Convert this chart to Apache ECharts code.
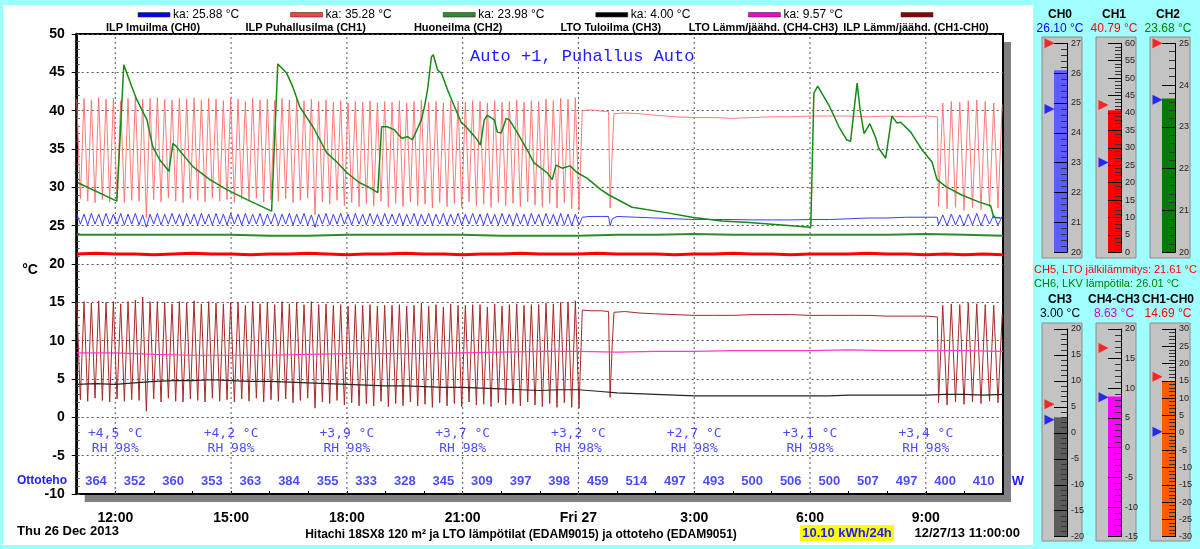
<!DOCTYPE html>
<html><head><meta charset="utf-8">
<script src="https://cdn.jsdelivr.net/npm/echarts@6/dist/echarts.min.js"></script>
<style>html,body{margin:0;padding:0;background:#a0ffff}#c{width:1200px;height:549px}</style>
</head><body><div id="c"></div><script>
// ---------------- DATA ----------------
// oscillating part 1: logged extremes, from 11:00, every 0.095 h (peak, trough, ...)
const ch1Osc1 = [
41.5,28.5, 41.6,28.2, 41.4,28.0, 41.7,28.4, 41.5,28.1, 41.6,28.6, 41.3,28.0, 41.6,28.3, 41.8,28.2, 41.5,26.0,
41.6,28.4, 41.7,28.1, 41.5,28.6, 41.4,28.2, 41.6,28.0, 41.5,28.5, 41.7,28.3, 41.4,28.1, 41.6,28.6, 41.5,28.2,
41.3,28.4, 41.6,28.0, 41.5,28.5, 41.2,28.2, 41.6,28.6, 41.4,28.1, 41.5,28.4, 41.3,28.2, 41.6,28.5, 41.4,28.0,
41.5,28.3, 41.3,28.6, 41.5,26.4, 41.2,28.1, 41.4,27.8, 41.1,28.3, 41.3,27.6, 41.0,28.0, 41.2,27.5, 41.1,27.9,
41.3,27.6, 41.0,28.2, 41.2,27.4, 41.1,27.9, 41.3,27.5, 41.0,28.1, 41.2,27.6, 41.4,27.8, 41.1,27.3, 41.2,28.0,
41.0,27.5, 41.3,27.9, 41.2,27.4, 41.1,28.1, 41.3,27.6, 41.2,27.8, 41.0,27.4, 41.3,28.0, 41.1,27.6, 41.2,27.9,
41.4,27.5, 41.1,28.1, 41.3,27.7, 41.2,27.4, 41.5,27.9, 41.3,27.3, 41.6,28.0, 41.5,27.2, 41.7,27.0
];
const ch0Osc1 = [
26.6,25.2, 26.5,25.1, 26.6,25.2, 26.5,25.1, 26.6,25.2, 26.5,25.2, 26.6,25.1, 26.5,25.2, 26.6,25.1, 26.4,24.8,
26.5,25.2, 26.6,25.1, 26.5,25.2, 26.6,25.2, 26.5,25.1, 26.6,25.2, 26.5,25.1, 26.6,25.2, 26.5,25.1, 26.6,25.2,
26.5,25.1, 26.6,25.2, 26.5,25.1, 26.6,25.2, 26.5,25.2, 26.6,25.1, 26.5,25.2, 26.6,25.1, 26.5,25.2, 26.6,25.1,
26.5,25.2, 26.6,25.1, 26.4,24.8, 26.5,25.2, 26.6,25.1, 26.5,25.2, 26.6,25.2, 26.5,25.1, 26.6,25.2, 26.5,25.1,
26.6,25.2, 26.5,25.1, 26.6,25.2, 26.5,25.2, 26.6,25.1, 26.5,25.2, 26.6,25.1, 26.5,25.2, 26.6,25.1, 26.5,25.2,
26.6,25.1, 26.5,25.2, 26.6,25.1, 26.5,25.2, 26.6,25.2, 26.5,25.1, 26.6,25.2, 26.5,25.1, 26.6,25.2, 26.5,25.1,
26.6,25.2, 26.5,25.1, 26.6,25.2, 26.5,25.1, 26.6,25.2, 26.5,25.1, 26.6,25.1, 26.5,25.0, 26.5,25.1
];
const ch10Osc1 = [
15.0,2.3, 15.1,2.1, 14.9,2.5, 15.2,2.2, 15.0,2.0, 15.1,2.4, 14.8,2.1, 15.1,2.3, 15.3,2.2, 15.7,0.8,
15.1,2.4, 15.1,2.0, 15.0,2.5, 14.8,2.1, 15.1,2.0, 14.9,2.4, 15.2,2.2, 14.8,2.0, 15.1,2.5, 14.9,2.1,
14.8,2.3, 15.0,2.0, 15.0,2.4, 14.6,2.1, 15.1,2.5, 14.8,2.0, 15.0,2.3, 14.7,2.1, 15.1,2.4, 14.8,1.9,
15.0,2.2, 14.7,2.5, 15.1,1.2, 14.7,2.0, 14.8,1.8, 14.6,2.2, 14.7,1.6, 14.5,1.9, 14.7,1.5, 14.6,1.8,
14.7,1.5, 14.5,2.1, 14.6,1.4, 14.6,1.8, 14.7,1.5, 14.5,2.0, 14.6,1.5, 14.9,1.7, 14.5,1.3, 14.7,1.9,
14.4,1.5, 14.8,1.8, 14.6,1.4, 14.6,2.0, 14.7,1.6, 14.7,1.7, 14.4,1.4, 14.8,1.9, 14.5,1.6, 14.7,1.8,
14.8,1.5, 14.6,2.0, 14.7,1.6, 14.7,1.4, 14.9,1.8, 14.8,1.3, 15.0,1.9, 15.0,1.3, 15.2,1.2
];
// steady period [hour, value]
const ch1Steady = [[24.1,40.0],[24.3,40.1],[24.5,40.0],[24.7,39.9],[24.78,39.9],[24.82,27.3],[24.87,34.0],[24.92,39.6],[25.2,39.7],[25.6,39.6],[26.0,39.4],[26.5,39.2],[27.0,39.1],[27.5,39.1],[28.0,39.0],[28.5,39.1],[29.0,39.2],[29.5,39.2],[30.0,39.3],[30.5,39.3],[31.0,39.3],[31.5,39.2],[32.0,39.3],[32.5,39.2],[33.0,39.3],[33.3,39.2]];
const ch0Steady = [[24.1,26.1],[24.3,26.2],[24.6,26.2],[24.78,26.2],[24.82,25.0],[24.88,25.9],[25.0,26.2],[25.5,26.1],[26.0,26.0],[26.5,25.9],[27.0,25.8],[27.5,25.8],[28.0,25.8],[28.5,25.75],[29.0,25.75],[29.5,25.75],[30.0,25.8],[30.5,25.8],[31.0,25.9],[31.5,26.0],[32.0,26.0],[32.5,26.1],[33.0,26.1],[33.3,26.1]];
const ch10Steady = [[24.1,14.0],[24.3,13.9],[24.6,13.9],[24.78,13.8],[24.82,2.6],[24.88,10.0],[24.92,13.7],[25.2,13.8],[25.6,13.6],[26.0,13.5],[26.5,13.4],[27.0,13.3],[27.5,13.3],[28.0,13.3],[28.5,13.4],[29.0,13.4],[29.5,13.4],[30.0,13.3],[30.5,13.3],[31.0,13.3],[31.5,13.3],[32.0,13.2],[32.5,13.2],[33.0,13.2],[33.3,13.1]];
// oscillating part 2: from 9:20, every 0.11 h (trough, peak, ...)
const ch1Osc2 = [27.5,41.0,27.2,41.2,27.4,41.1,27.0,41.3,27.3,41.4,27.1,41.2,27.5,41.0,27.3,40.8];
const ch0Osc2 = [25.1,26.4,25.0,26.5,25.1,26.4,25.0,26.5,25.1,26.6,25.0,26.5,25.2,26.4,25.1,26.2];
const ch10Osc2 = [1.9,14.6,1.6,14.8,2.0,14.7,1.7,14.9,2.0,14.8,1.8,14.7,2.1,14.6,1.9,13.5];
// half-hourly from 11:00
const ch3Half = [4.3,4.4,4.3,4.5,4.7,4.8,4.8,4.9,4.8,4.7,4.7,4.6,4.5,4.4,4.3,4.2,4.1,4.1,4.0,3.9,3.9,3.8,3.7,3.6,3.5,3.6,3.6,3.4,3.2,3.1,3.0,2.9,2.8,2.8,2.8,2.8,2.8,2.8,2.8,2.8,2.9,2.9,2.9,2.9,2.9,3.0,3.0,2.9,3.0];
const ch5Half = [21.3,21.4,21.3,21.3,21.2,21.3,21.4,21.3,21.3,21.2,21.3,21.3,21.4,21.3,21.2,21.3,21.3,21.4,21.3,21.3,21.2,21.3,21.3,21.4,21.3,21.3,21.3,21.4,21.3,21.3,21.3,21.2,21.3,21.3,21.4,21.3,21.3,21.2,21.3,21.3,21.3,21.4,21.3,21.3,21.2,21.3,21.2,21.3,21.2];
// hourly from 11:00
const ch4Hourly = [8.4,8.4,8.2,8.1,8.1,8.1,8.2,8.3,8.3,8.3,8.4,8.5,8.6,8.6,8.5,8.6,8.6,8.7,8.7,8.7,8.8,8.7,8.7,8.7,8.6];
const ch2Hourly = [23.8,23.8,23.8,23.8,23.8,23.7,23.7,23.8,23.8,23.8,23.8,23.7,23.7,23.7,23.8,23.8,23.9,23.8,23.8,23.8,23.8,23.8,23.9,23.8,23.7];
// CH6 hot water [hour, value]
const ch6 = [[11.03,30.6],[12.04,28.2],[12.22,46.0],[12.43,43.1],[12.56,41.4],[12.82,38.8],[12.97,35.3],[13.15,33.6],[13.39,32.1],[13.49,35.7],[13.57,35.4],[14.01,32.7],[14.45,31.0],[14.89,29.7],[15.41,28.4],[16.05,26.9],[16.21,46.1],[16.44,44.9],[16.6,43.1],[16.78,40.5],[17.12,37.9],[17.48,34.5],[17.74,33.3],[18.0,31.9],[18.33,30.6],[18.54,30.1],[18.8,29.3],[18.9,37.9],[19.05,37.9],[19.23,37.5],[19.42,36.4],[19.57,36.6],[19.7,36.2],[19.93,38.8],[20.01,40.5],[20.09,42.7],[20.19,47.0],[20.24,47.3],[20.35,45.3],[20.45,44.9],[20.61,42.7],[20.79,40.5],[20.97,38.4],[21.05,38.1],[21.23,37.1],[21.38,36.2],[21.46,35.5],[21.56,38.8],[21.64,39.4],[21.82,38.8],[21.9,37.2],[22.0,37.1],[22.13,39.0],[22.21,38.8],[22.42,37.1],[22.67,34.9],[22.85,33.2],[23.19,31.9],[23.32,31.0],[23.42,32.9],[23.58,32.5],[23.78,32.8],[23.97,31.9],[24.22,31.2],[24.58,29.7],[24.79,29.0],[25.39,27.4],[26.27,26.7],[26.94,26.1],[27.72,25.6],[28.42,25.4],[29.27,25.1],[30.02,24.8],[30.1,42.3],[30.2,43.2],[30.49,40.7],[30.75,37.9],[30.95,36.2],[31.05,36.0],[31.15,40.5],[31.22,43.6],[31.3,40.0],[31.4,37.0],[31.55,38.3],[31.7,36.5],[31.78,35.1],[31.96,33.8],[32.12,39.3],[32.25,38.4],[32.35,38.5],[32.61,37.2],[32.9,34.9],[33.16,33.3],[33.29,31.0],[33.52,30.1],[33.93,29.0],[34.37,28.1],[34.68,27.6],[34.76,26.1],[34.94,26.0]];
// annotations
const hours3 = [12,15,18,21,24,27,30,33];
const outdoorTemp = ['+4,5','+4,2','+3,9','+3,7','+3,2','+2,7','+3,1','+3,4'];
const outdoorRH = [98,98,98,98,98,98,98,98];
const powerHours = [11.5,12.5,13.5,14.5,15.5,16.5,17.5,18.5,19.5,20.5,21.5,22.5,23.5,24.5,25.5,26.5,27.5,28.5,29.5,30.5,31.5,32.5,33.5,34.5];
const powerW = [364,352,360,353,363,384,355,333,328,345,309,397,398,459,514,497,493,500,506,500,507,497,400,410];
// legend
const seriesNames = ['ILP Imuilma (CH0)','ILP Puhallusilma (CH1)','Huoneilma (CH2)','LTO Tuloilma (CH3)','LTO Lämm/jäähd. (CH4-CH3)','ILP Lämm/jäähd. (CH1-CH0)'];
const seriesAvg = ['25.88','35.28','23.98','4.00','9.57',null];
// gauges
const gaugeNames = ['CH0','CH1','CH2','CH3','CH4-CH3','CH1-CH0'];
const gaugeValues = [26.10,40.79,23.68,3.00,8.63,14.69];
const gaugeHigh = [27.0,42.3,25.0,5.5,16.8,16.2];
const gaugeLow = [24.8,25.8,23.65,2.5,8.5,0.3];
const gaugeMin = [20,0,20,-20,-15,-30];
const gaugeMax = [27,60,25,20,20,30];
const gaugeStep = [1,5,1,5,5,5];
const ch5Now = '21.61', ch6Now = '26.01';

// ---------------- BUILD ----------------
const FONT = "'Liberation Sans', Arial, sans-serif";
const MONO = "'DejaVu Sans Mono', 'Liberation Mono', monospace";
const BLUE = '#1c1cff';
function seq(start, step, vals){ return vals.map((v,i)=>[+(start+i*step).toFixed(3), v]); }
const S1 = 11.0, D1 = 0.095, S2 = 33.33, D2 = 0.11;
const ch1Data = seq(S1,D1,ch1Osc1).concat(ch1Steady, seq(S2,D2,ch1Osc2));
const ch0Data = seq(S1,D1,ch0Osc1).concat(ch0Steady, seq(S2,D2,ch0Osc2));
const ch10Data = seq(S1,D1,ch10Osc1).concat(ch10Steady, seq(S2,D2,ch10Osc2));

const chart = echarts.init(document.getElementById('c'), null, {renderer:'canvas'});

const gaugeColors = ['#5c5cff','#ff0000','#007c00','#5c5c5c','#ff00ff','#ff5a00'];
const valColors = ['#0000ff','#ff0000','#008000','#000000','#cc00cc','#ff0000'];
const gx = [1054,1108,1162];
const rowTop = [43.3,329], rowBot = [252.3,536.7];
const boxT = [37,323], boxB = [258,541];

const grids = [{left:76.7, top:34, width:926.3, height:460, show:true, backgroundColor:'#ffffff', borderColor:'#000', borderWidth:2,
  outerBoundsMode:'none', containLabel:false}];
const xAxes = [{gridIndex:0, type:'value', min:11, max:35, interval:1,
  axisLine:{show:true, onZero:false, lineStyle:{color:'#000', width:2}},
  axisTick:{show:true, inside:true, length:3, lineStyle:{color:'#000'}},
  splitLine:{show:false},
  axisLabel:{margin:17, color:'#000', fontSize:14, fontWeight:'bold', fontFamily:FONT,
    formatter:v=> (v%3===0 && v>11 && v<35) ? (v===24 ? 'Fri 27' : (v%24)+':00') : ''}}];
const yAxes = [
 {gridIndex:0, type:'value', min:-10, max:50, interval:5, position:'left',
  axisLine:{show:true, onZero:false, lineStyle:{color:'#000', width:2.5}},
  axisTick:{show:true, length:5, lineStyle:{color:'#000'}},
  axisLabel:{margin:12, color:'#000', fontSize:14, fontWeight:'bold', fontFamily:FONT},
  splitLine:{show:true, lineStyle:{color:'#555', type:[2,3], width:1}}},
 {gridIndex:0, type:'value', min:-10, max:50, interval:1, position:'left',
  axisLine:{show:false}, axisTick:{show:true, inside:true, length:3, lineStyle:{color:'#555'}},
  axisLabel:{show:false}, splitLine:{show:false}}
];
const series = [];
function line(name, data, color, width, z){
  return {name, type:'line', data, xAxisIndex:0, yAxisIndex:0, showSymbol:false, symbol:'none', z,
    lineStyle:{color, width}, animation:false, silent:true, clip:true, connectNulls:false};
}
// vertical 3-hour grid lines, drawn through the axes
const vGrid = [];
hours3.forEach(h=>{ vGrid.push([h,-10],[h,50],[h,null]); });
const vg = line('grid', vGrid, '#555', 1, 1);
vg.lineStyle.type = [2,3];
series.push(vg);
series.push(line('CH1', ch1Data, '#ff6c6c', 0.9, 2));
series.push(line('CH1-CH0', ch10Data, '#a82828', 1, 3));
series.push(line('CH0', ch0Data, '#3c3cff', 1, 4));
series.push(line('CH3', seq(11,0.5,ch3Half), '#262626', 1.2, 5));
series.push(line('CH4-CH3', seq(11,1,ch4Hourly), '#ff3cc8', 1.2, 5));
series.push(line('CH2', seq(11,1,ch2Hourly), '#2e8b2e', 2, 5));
series.push(line('CH5', seq(11,0.5,ch5Half), '#ff0000', 3, 6));
series.push(line('CH6', ch6, '#168a16', 1.5, 7));
// annotations
function labelSeries(data, fmt, font, color, fontSize, weight){
  return {type:'scatter', xAxisIndex:0, yAxisIndex:0, symbolSize:1, itemStyle:{color:'rgba(0,0,0,0)'}, z:10, silent:true, animation:false,
    data, label:{show:true, position:'inside', formatter:fmt, color, fontSize, fontWeight:weight, fontFamily:font}};
}
series.push(labelSeries(hours3.map(h=>[h,-2.17]), p=>outdoorTemp[p.dataIndex]+' °C', MONO, BLUE, 13, 'normal'));
series.push(labelSeries(hours3.map(h=>[h,-4.13]), p=>'RH '+outdoorRH[p.dataIndex]+'%', MONO, BLUE, 13, 'normal'));
series.push(labelSeries(powerHours.map(h=>[h,-8.3]), p=>String(powerW[p.dataIndex]), FONT, BLUE, 13, 'bold'));

const graphics = [];
graphics.push({type:'rect', z:-100, shape:{x:3,y:5,width:1030,height:540}, style:{fill:'#ffffff'}});
graphics.push({type:'rect', z:-90, shape:{x:84.7,y:42,width:926.3,height:460}, style:{fill:'#808080'}});
// gauges
for(let g=0; g<6; g++){
  const row = g<3?0:1, col = g%3;
  const gi = grids.length;        // grid / xAxis index
  const yi = yAxes.length;        // yAxis index (main grid has two y axes)
  grids.push({left:gx[col], top:rowTop[row], width:13, height:rowBot[row]-rowTop[row], outerBoundsMode:'none', containLabel:false});
  xAxes.push({gridIndex:gi, type:'category', data:['v'], show:false, boundaryGap:true});
  yAxes.push({gridIndex:gi, type:'value', min:gaugeMin[g], max:gaugeMax[g], interval:gaugeStep[g], position:'right', z:10,
    axisLine:{show:true, onZero:false, lineStyle:{color:'#000', width:1}},
    axisTick:{show:true, inside:true, length:13, lineStyle:{color:'#000'}},
    minorTick:{show:true, splitNumber:5, length:6, lineStyle:{color:'#333'}},
    axisLabel:{show:true, margin:4, fontSize:9, color:'#222', fontFamily:FONT},
    splitLine:{show:false}});
  const base = gaugeMin[g], fillC = gaugeColors[g];
  series.push({type:'custom', xAxisIndex:gi, yAxisIndex:yi, z:3, silent:true, animation:false,
    data:[[0, gaugeValues[g]]],
    renderItem:(params, api)=>{
      const top = api.coord([api.value(0), api.value(1)]);
      const bot = api.coord([api.value(0), base]);
      const w = api.size([1,0])[0];
      return {type:'rect', shape:{x:top[0]-w/2, y:top[1], width:w, height:bot[1]-top[1]}, style:{fill:fillC}};
    }});
  series.push({type:'scatter', xAxisIndex:gi, yAxisIndex:yi, symbol:'triangle', symbolSize:10, symbolRotate:-90, symbolOffset:[-11,0],
    clip:false, animation:false, silent:true, z:12,
    data:[{value:[0,gaugeHigh[g]], itemStyle:{color:'#ff0000'}},{value:[0,gaugeLow[g]], itemStyle:{color:'#0000ff'}}]});
  const bl = gx[col]-12, br = gx[col]+28;
  graphics.push({type:'rect', z:-50, shape:{x:bl, y:boxT[row], width:br-bl, height:boxB[row]-boxT[row]}, style:{fill:'#c3c3c3', stroke:'#8a8a8a', lineWidth:1}});
  const cx = gx[col]+6;
  const ty = row===0 ? 15 : 300;
  graphics.push({type:'text', z:5, x:cx, y:ty, style:{text:gaugeNames[g], fill:'#000', font:'bold 12px '+FONT, textAlign:'center', textVerticalAlign:'middle', verticalAlign:'middle'}});
  graphics.push({type:'text', z:5, x:cx, y:ty+14, style:{text:gaugeValues[g].toFixed(2)+' °C', fill:valColors[g], font:'12px '+FONT, textAlign:'center', textVerticalAlign:'middle', verticalAlign:'middle'}});
}
graphics.push({type:'text', z:5, x:1034, y:270, style:{text:'CH5, LTO jälkilämmitys: '+ch5Now+' °C', fill:'#ff0000', font:'11px '+FONT, textVerticalAlign:'middle', verticalAlign:'middle'}});
graphics.push({type:'text', z:5, x:1034, y:284, style:{text:'CH6, LKV lämpötila: '+ch6Now+' °C', fill:'#008000', font:'11px '+FONT, textVerticalAlign:'middle', verticalAlign:'middle'}});

// legend
const legendColors = ['#0000ff','#ff4040','#2e8b2e','#000000','#ff00cc','#8b0000'];
for(let i=0;i<6;i++){
  const c = 153 + i*152.6;
  graphics.push({type:'rect', z:5, shape:{x:c-15, y:12.5, width:32, height:4.5}, style:{fill:legendColors[i], stroke:'#333', lineWidth:0.6}});
  if(seriesAvg[i]) graphics.push({type:'text', z:5, x:c+20, y:14.5, style:{text:'ka: '+seriesAvg[i]+' °C', fill:'#000', font:'12px '+FONT, textVerticalAlign:'middle', verticalAlign:'middle'}});
  graphics.push({type:'text', z:5, x:c, y:27.5, style:{text:seriesNames[i], fill:'#000', font:'bold 11px '+FONT, textAlign:'center', textVerticalAlign:'middle', verticalAlign:'middle'}});
}
// other texts
graphics.push({type:'text', z:5, x:30, y:270, style:{text:'°C', fill:'#000', font:'bold 14px '+FONT, textAlign:'center', textVerticalAlign:'middle', verticalAlign:'middle'}});
graphics.push({type:'text', z:20, x:470, y:56, style:{text:'Auto +1, Puhallus Auto', fill:BLUE, font:'17px '+"'Liberation Mono', monospace", textVerticalAlign:'middle', verticalAlign:'middle'}});
graphics.push({type:'text', z:5, x:42, y:481, style:{text:'Ottoteho', fill:BLUE, font:'bold 12px '+FONT, textAlign:'center', textVerticalAlign:'middle', verticalAlign:'middle'}});
graphics.push({type:'text', z:5, x:1018, y:481, style:{text:'W', fill:BLUE, font:'bold 13px '+FONT, textAlign:'center', textVerticalAlign:'middle', verticalAlign:'middle'}});
graphics.push({type:'text', z:5, x:17, y:531, style:{text:'Thu 26 Dec 2013', fill:'#000', font:'bold 13px '+FONT, textVerticalAlign:'middle', verticalAlign:'middle'}});
graphics.push({type:'text', z:5, x:521, y:535, style:{text:'Hitachi 18SX8 120 m² ja LTO lämpötilat (EDAM9015) ja ottoteho (EDAM9051)', fill:'#000', font:'bold 12px '+FONT, textAlign:'center', textVerticalAlign:'middle', verticalAlign:'middle'}});
graphics.push({type:'rect', z:4, shape:{x:800, y:525, width:94, height:16}, style:{fill:'#ffff00'}});
graphics.push({type:'text', z:5, x:847, y:533, style:{text:'10.10 kWh/24h', fill:BLUE, font:'bold 13px '+FONT, textAlign:'center', textVerticalAlign:'middle', verticalAlign:'middle'}});
graphics.push({type:'text', z:5, x:1020, y:533, style:{text:'12/27/13 11:00:00', fill:'#000', font:'bold 13px '+FONT, textAlign:'right', textVerticalAlign:'middle', verticalAlign:'middle'}});

chart.setOption({
  animation:false,
  backgroundColor:'#a0ffff',
  grid:grids, xAxis:xAxes, yAxis:yAxes, series,
  graphic:{elements:graphics}
});
</script></body></html>
